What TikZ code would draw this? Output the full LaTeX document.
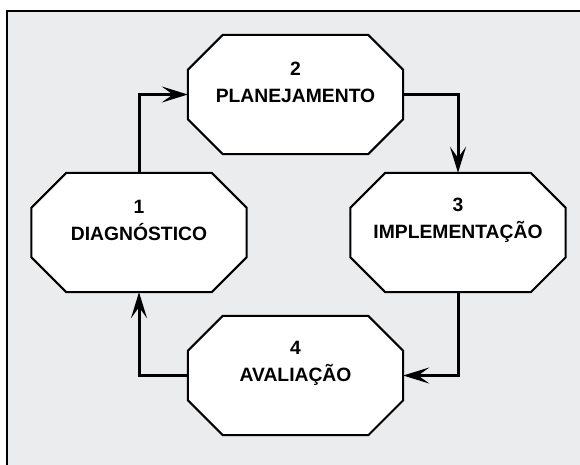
\documentclass[tikz,border=0pt]{standalone}
\usepackage{fontspec}
\setmainfont{Liberation Sans}
\usetikzlibrary{arrows.meta}
\definecolor{bggray}{HTML}{EBECEE}
\begin{document}
\begin{tikzpicture}[x=1pt,y=-1pt,
  oct/.style={rectangle, draw=none, minimum width=215pt, minimum height=119pt, inner sep=0pt},
  octline/.style={draw=black, line width=2pt, fill=white, line join=miter},
  lbl/.style={font=\fontsize{19.3}{27}\selectfont\bfseries, align=center, inner sep=0pt},
  flow/.style={line width=3pt, -{Stealth[length=26pt,width=16pt,inset=11pt]}}]
\useasboundingbox (0,0) rectangle (580,464);
\clip (0,0) rectangle (580,464);
\draw[fill=bggray, line width=2pt] (7,10.5) rectangle (600,480);
\node[oct] (p2) at (295.5,94.5) {};
\node[oct] (p1) at (139,232.5) {};
\node[oct] (p3) at (458,232.5) {};
\node[oct] (p4) at (295.5,375.5) {};
\foreach \n in {p1,p2,p3,p4}{
  \draw[octline] ([xshift=35pt]\n.north west) -- ([xshift=-35pt]\n.north east)
    -- ([yshift=-35pt]\n.north east) -- ([yshift=35pt]\n.south east)
    -- ([xshift=-35pt]\n.south east) -- ([xshift=35pt]\n.south west)
    -- ([yshift=35pt]\n.south west) -- ([yshift=-35pt]\n.north west) -- cycle;
}
\node[lbl] (t2) at (295.5,82) {2\\PLANEJAMENTO};
\node[lbl] (t1) at (139,220) {1\\DIAGNÓSTICO};
\node[lbl] (t3) at (458,220) {3\\IMPLEMENTAÇÃO};
\node[lbl] (t4) at (295.5,363) {4\\AVALIAÇÃO};
\draw[flow] (p1.north) |- (p2.west);
\draw[flow] (p2.east) -| (p3.north);
\draw[flow] (p3.south) |- (p4.east);
\draw[flow] (p4.west) -| (p1.south);
\end{tikzpicture}
\end{document}
